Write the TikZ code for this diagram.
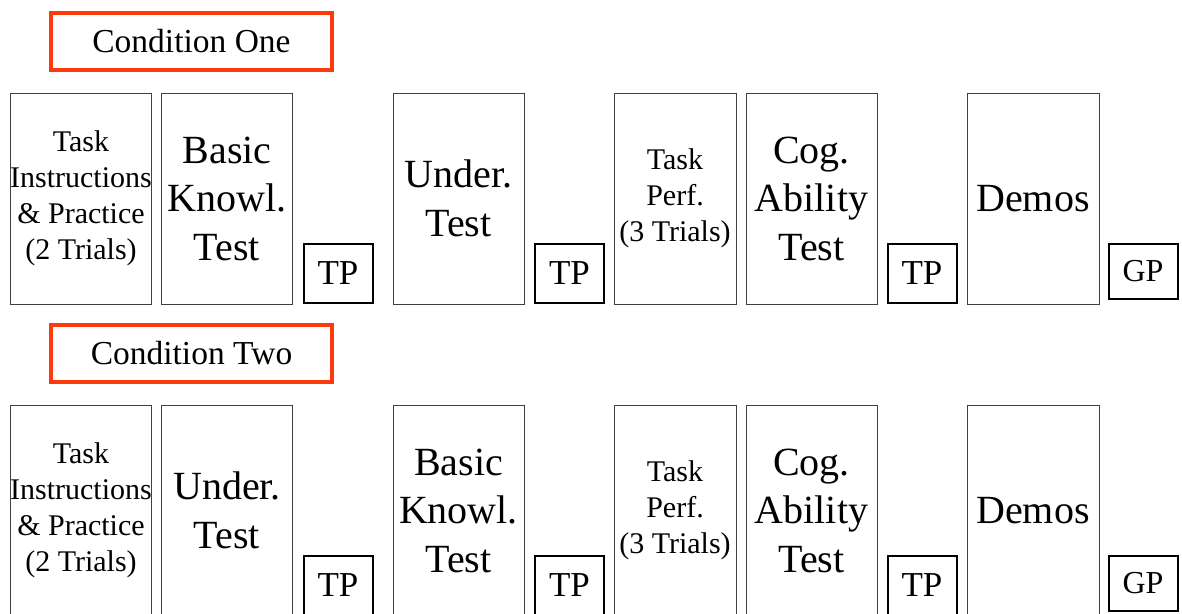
\documentclass[tikz,border=0pt]{standalone}
\usepackage{fontspec}
\setmainfont{Liberation Serif}
\definecolor{condred}{RGB}{255,58,10}
\begin{document}
\begin{tikzpicture}[x=1pt,y=-1pt,
  stage/.style={draw=black!75,line width=1pt,rectangle,inner sep=0pt,
    minimum height=211pt,align=center},
  small/.style={font=\fontsize{30}{36}\selectfont},
  large/.style={font=\fontsize{40}{48.5}\selectfont},
  tpbox/.style={draw=black,line width=2pt,rectangle,inner sep=0pt,
    minimum width=69pt,minimum height=59pt,font=\fontsize{35}{40}\selectfont},
  cond/.style={draw=condred,line width=4pt,rectangle,inner sep=0pt,
    minimum width=281pt,minimum height=57pt,font=\fontsize{33.5}{40}\selectfont}]
\useasboundingbox (0,0) rectangle (1182,613);
\clip (0,0) rectangle (1182,613);

% ---- first condition ----
\node[cond] (c1) at (191.5,41.5) {Condition One};
\node[stage,small,minimum width=141pt] (a1) at (81,198.5) {Task\\Instructions\\\& Practice\\(2 Trials)};
\node[stage,large,minimum width=131pt] (a2) at (227,198.5) {Basic\\Knowl.\\Test};
\node[tpbox] (a3) at (338,273.5) {TP};
\node[stage,large,minimum width=131pt] (a4) at (458.5,198.5) {Under.\\Test};
\node[tpbox] (a5) at (569.5,273.5) {TP};
\node[stage,small,minimum width=122pt] (a6) at (675,198.5) {Task\\Perf.\\(3 Trials)};
\node[stage,large,minimum width=131pt] (a7) at (811.5,198.5) {Cog.\\Ability\\Test};
\node[tpbox] (a8) at (922,273.5) {TP};
\node[stage,large,minimum width=132pt] (a9) at (1033,198.5) {Demos};
\node[tpbox,minimum height=55pt,font=\fontsize{32}{38}\selectfont] (a10) at (1143,271.5) {GP};

% ---- second condition ----
\begin{scope}[yshift=-312pt]
\node[cond] (c2) at (191.5,41.5) {Condition Two};
\node[stage,small,minimum width=141pt] (b1) at (81,198.5) {Task\\Instructions\\\& Practice\\(2 Trials)};
\node[stage,large,minimum width=131pt] (b2) at (227,198.5) {Under.\\Test};
\node[tpbox] (b3) at (338,273.5) {TP};
\node[stage,large,minimum width=131pt] (b4) at (458.5,198.5) {Basic\\Knowl.\\Test};
\node[tpbox] (b5) at (569.5,273.5) {TP};
\node[stage,small,minimum width=122pt] (b6) at (675,198.5) {Task\\Perf.\\(3 Trials)};
\node[stage,large,minimum width=131pt] (b7) at (811.5,198.5) {Cog.\\Ability\\Test};
\node[tpbox] (b8) at (922,273.5) {TP};
\node[stage,large,minimum width=132pt] (b9) at (1033,198.5) {Demos};
\node[tpbox,minimum height=55pt,font=\fontsize{32}{38}\selectfont] (b10) at (1143,271.5) {GP};
\end{scope}
\end{tikzpicture}
\end{document}
